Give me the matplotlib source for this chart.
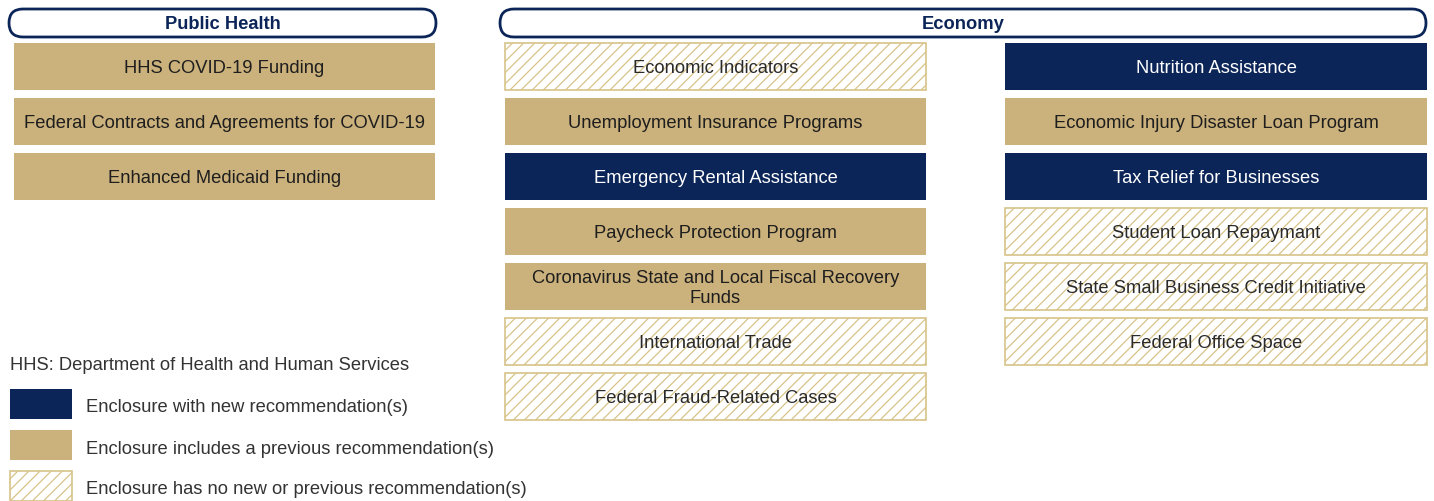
import matplotlib
matplotlib.use('Agg')
import matplotlib.pyplot as plt
from matplotlib.patches import Rectangle, FancyBboxPatch

plt.rcParams['font.family'] = ['Liberation Sans', 'DejaVu Sans']
plt.rcParams['hatch.linewidth'] = 0.9

# status: 'new' = new recommendation, 'prev' = previous recommendation, 'none' = neither
health_labels = ['HHS COVID-19 Funding',
                 'Federal Contracts and Agreements for COVID-19',
                 'Enhanced Medicaid Funding']
health_status = ['prev', 'prev', 'prev']

econ_left_labels = ['Economic Indicators',
                    'Unemployment Insurance Programs',
                    'Emergency Rental Assistance',
                    'Paycheck Protection Program',
                    'Coronavirus State and Local Fiscal Recovery\nFunds',
                    'International Trade',
                    'Federal Fraud-Related Cases']
econ_left_status = ['none', 'prev', 'new', 'prev', 'prev', 'none', 'none']

econ_right_labels = ['Nutrition Assistance',
                     'Economic Injury Disaster Loan Program',
                     'Tax Relief for Businesses',
                     'Student Loan Repaymant',
                     'State Small Business Credit Initiative',
                     'Federal Office Space']
econ_right_status = ['new', 'prev', 'new', 'none', 'none', 'none']

legend_status = ['new', 'prev', 'none']
legend_labels = ['Enclosure with new recommendation(s)',
                 'Enclosure includes a previous recommendation(s)',
                 'Enclosure has no new or previous recommendation(s)']
note = 'HHS: Department of Health and Human Services'

NAVY = '#0b2558'
GOLD = '#cbb17c'
HATCH = '#d8c389'
FS = 13.2

fig = plt.figure(figsize=(14.34, 5.01), dpi=100)
ax = fig.add_axes([0, 0, 1, 1])
ax.set_xlim(0, 1434)
ax.set_ylim(501, 0)
ax.axis('off')


def box(x, y, w, h, status, label=None, fs=FS):
    if status == 'new':
        p = Rectangle((x, y), w, h, facecolor=NAVY, edgecolor='none')
        tc = 'white'
    elif status == 'prev':
        p = Rectangle((x, y), w, h, facecolor=GOLD, edgecolor='none')
        tc = '#1e1e1e'
    else:
        p = Rectangle((x, y), w, h, facecolor='white', edgecolor=HATCH,
                      hatch='///', lw=1.2)
        tc = '#2a2a2a'
    ax.add_patch(p)
    if label:
        ax.text(x + w / 2, y + h / 2 + 2, label, ha='center', va='center',
                fontsize=fs, color=tc, linespacing=1.2)


def column(x, w, labels, status):
    for i, (lab, st) in enumerate(zip(labels, status)):
        box(x, 43 + i * 55, w, 47, st, lab)


def header(x, w, title):
    p = FancyBboxPatch((x, 9), w, 28, boxstyle='round,pad=0,rounding_size=14',
                       facecolor='white', edgecolor=NAVY, lw=2)
    ax.add_patch(p)
    ax.text(x + w / 2, 24, title, ha='center', va='center', fontsize=FS,
            fontweight='bold', color=NAVY)


header(9, 427, 'Public Health')
header(500, 926, 'Economy')

column(14, 421, health_labels, health_status)
column(505, 421, econ_left_labels, econ_left_status)
column(1005, 422, econ_right_labels, econ_right_status)

ax.text(10, 366, note, ha='left', va='center', fontsize=FS, color='#333333')
for i, (st, lab) in enumerate(zip(legend_status, legend_labels)):
    y = 389 + i * 41
    box(10, y, 62, 30, st)
    ax.text(86, y + 19, lab, ha='left', va='center', fontsize=FS, color='#333333')

fig.savefig('out.png', dpi=100)
